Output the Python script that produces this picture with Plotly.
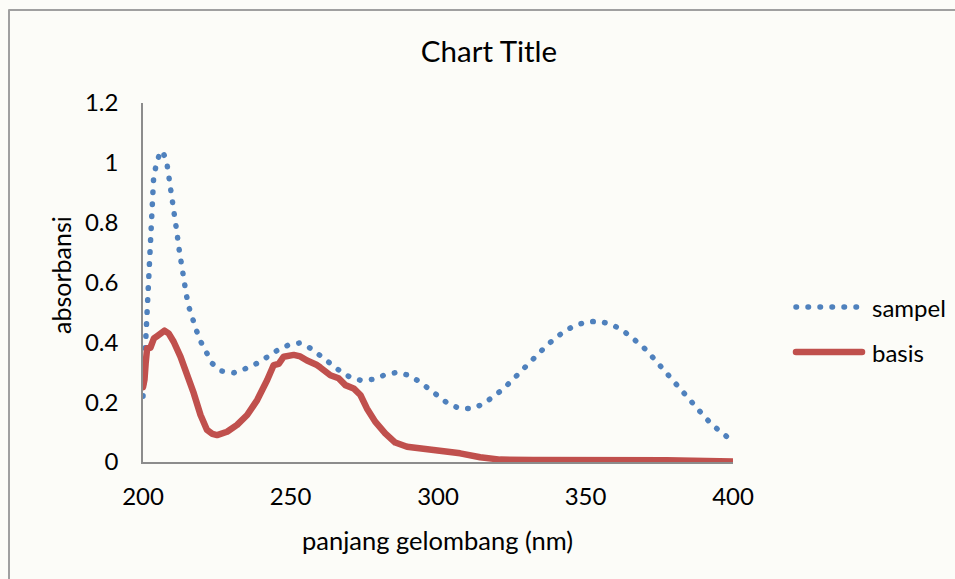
import plotly.graph_objects as go

# Absorbance spectra (wavelength in nm)
sampel_nm = [200, 200.8, 201.2, 201.4, 201.8, 202.1, 202.4, 202.9, 203.6, 204.6,
             205.8, 206.6, 208, 208.6, 209.3, 210, 210.6, 211.1, 211.6, 212.1,
             212.7, 213.3, 214, 214.7, 215.6, 216.7, 218.1, 219.6, 221.5, 223.5,
             226.7, 230.8, 234.7, 238.5, 242.1, 245.5, 249.3, 253.1, 257, 260.2,
             263.4, 266.8, 270.3, 274.2, 278.3, 282.2, 286.3, 290.3, 293.8, 297,
             300.3, 303.7, 307.5, 311.6, 315.4, 318.8, 322, 325, 328, 330.9,
             333.8, 336.8, 339.9, 343.3, 346.9, 350.9, 355, 359, 362.6, 366,
             369.2, 372, 374.7, 377.4, 380.1, 382.8, 385.5, 388.2, 391.1, 394.1,
             397.3, 400]
sampel_abs = [0.22, 0.38, 0.46, 0.55, 0.63, 0.71, 0.79, 0.87, 0.95, 1.00,
              1.035, 1.04, 1.005, 0.965, 0.923, 0.882, 0.842, 0.80, 0.76, 0.72,
              0.68, 0.638, 0.598, 0.558, 0.517, 0.478, 0.44, 0.402, 0.364, 0.329,
              0.304, 0.298, 0.312, 0.329, 0.351, 0.373, 0.391, 0.398, 0.379, 0.353,
              0.328, 0.304, 0.283, 0.272, 0.277, 0.292, 0.300, 0.289, 0.268, 0.243,
              0.217, 0.193, 0.179, 0.179, 0.194, 0.217, 0.243, 0.272, 0.302, 0.332,
              0.360, 0.389, 0.415, 0.440, 0.458, 0.469, 0.470, 0.459, 0.440, 0.415,
              0.388, 0.359, 0.328, 0.296, 0.265, 0.234, 0.203, 0.173, 0.143, 0.115,
              0.089, 0.068]

basis_nm = [200, 200.5, 200.9, 201.4, 202.5, 203.2, 203.7, 204.8, 205.9, 207.3,
            208.7, 210.4, 212.7, 214.9, 217.2, 219.5, 221.7, 223.5, 225.1, 228.5,
            231.9, 235.3, 238.7, 242.1, 244.3, 246, 247.7, 251.1, 253.3, 255.6,
            256.7, 259, 260.1, 262.4, 263.5, 266.3, 268.6, 271.4, 273.7, 275.9,
            278.7, 282.1, 285.5, 289.5, 294, 300.8, 307.5, 314.3, 321.1, 332.4,
            355, 377.6, 400]
basis_abs = [0.25, 0.275, 0.33, 0.38, 0.382, 0.397, 0.413, 0.421, 0.432, 0.439,
             0.430, 0.402, 0.352, 0.296, 0.230, 0.157, 0.107, 0.094, 0.090, 0.101,
             0.124, 0.157, 0.207, 0.274, 0.324, 0.328, 0.352, 0.358, 0.353, 0.339,
             0.335, 0.324, 0.316, 0.298, 0.290, 0.280, 0.257, 0.246, 0.224, 0.179,
             0.135, 0.096, 0.065, 0.051, 0.045, 0.040, 0.029, 0.016, 0.008, 0.007,
             0.008, 0.006, 0.002]

x_ticks = [200, 250, 300, 350, 400]
y_ticks = [0, 0.2, 0.4, 0.6, 0.8, 1, 1.2]
y_tick_text = ["0", "0.2", "0.4", "0.6", "0.8", "1", "1.2"]

BLUE = "#4F81BD"
RED = "#C0504D"
AXIS = "#8C8C8C"
BG = "#FCFCF8"
FONT = "Lato"
DOTS = "0.5px,11.5px"

W, H = 955, 579
ML, MR, MT, MB = 143, 222, 103, 117
PW, PH = W - ML - MR, H - MT - MB


def px_x(p):
    return (p - ML) / PW


def px_y(p):
    return (H - MB - p) / PH


fig = go.Figure()
fig.add_trace(go.Scatter(x=sampel_nm, y=sampel_abs, mode="lines", name="sampel",
                         line=dict(color=BLUE, width=5.5, dash=DOTS)))
fig.add_trace(go.Scatter(x=basis_nm, y=basis_abs, mode="lines", name="basis",
                         line=dict(color=RED, width=6.5)))

# chart-area frame
fig.add_shape(type="rect", xref="paper", yref="paper",
              x0=px_x(9), x1=px_x(W + 40), y0=px_y(H + 40), y1=px_y(10),
              line=dict(color="#A0A0A0", width=2), layer="below")

# legend glyphs and labels
fig.add_shape(type="line", xref="paper", yref="paper",
              x0=px_x(796), x1=px_x(857), y0=px_y(307), y1=px_y(307),
              line=dict(color=BLUE, width=5.5, dash=DOTS))
fig.add_shape(type="line", xref="paper", yref="paper",
              x0=px_x(796), x1=px_x(862), y0=px_y(352), y1=px_y(352),
              line=dict(color=RED, width=6.5))
for label, py in (("sampel", 307), ("basis", 352)):
    fig.add_annotation(text=label, xref="paper", yref="paper",
                       x=px_x(870), y=px_y(py), xanchor="left", yanchor="middle",
                       showarrow=False, font=dict(family=FONT, size=24, color="#000000"))

# axis titles
fig.add_annotation(text="panjang gelombang (nm)", xref="paper", yref="paper",
                   x=px_x(437), y=px_y(540), xanchor="center", yanchor="middle",
                   showarrow=False, font=dict(family=FONT, size=25.5, color="#000000"))
fig.add_annotation(text="absorbansi", xref="paper", yref="paper",
                   x=px_x(61), y=px_y(275), xanchor="center", yanchor="middle",
                   textangle=-90, showarrow=False,
                   font=dict(family=FONT, size=25, color="#000000"))

fig.update_layout(
    width=W, height=H,
    margin=dict(l=ML, r=MR, t=MT, b=MB, pad=0),
    paper_bgcolor=BG, plot_bgcolor=BG,
    showlegend=False,
    title=dict(text="Chart Title", x=px_x(489), xref="paper", xanchor="center",
               y=1 - 52 / H, yref="container", yanchor="middle",
               font=dict(family=FONT, size=29.5, color="#000000")),
    font=dict(family=FONT, color="#000000"),
)
fig.update_xaxes(range=[200, 400], tickvals=x_ticks, ticks="", showgrid=False,
                 zeroline=False, showline=True, linecolor=AXIS, linewidth=1.5,
                 layer="below traces", tickfont=dict(family=FONT, size=24),
                 ticklabelstandoff=12, fixedrange=True)
fig.update_yaxes(range=[0, 1.2], tickvals=y_ticks, ticktext=y_tick_text, ticks="",
                 showgrid=False, zeroline=False, showline=True, linecolor=AXIS,
                 linewidth=1.5, layer="below traces",
                 tickfont=dict(family=FONT, size=24), ticklabelstandoff=18,
                 fixedrange=True)

post = """
var st = document.createElement('style');
st.textContent = '.scatterlayer .js-line, .shapelayer path {stroke-linecap: round; stroke-linejoin: round;}';
document.head.appendChild(st);
"""
fig.write_html("out.html", post_script=post, config={"displayModeBar": False})
